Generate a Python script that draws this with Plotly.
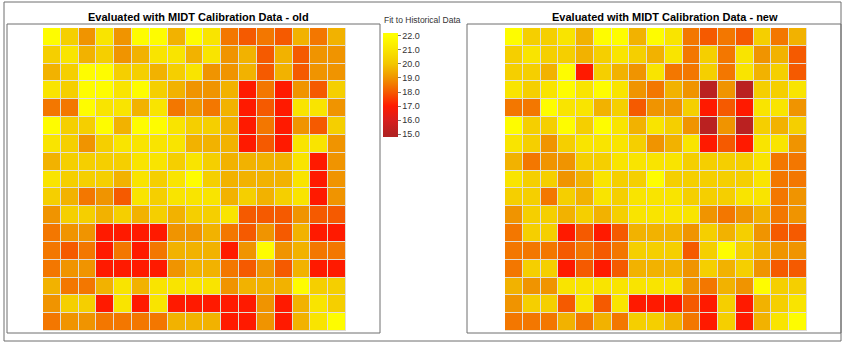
import plotly.graph_objects as go

W, H = 845, 345

# Fit values, row 0 = top row of each map (17 x 17 grid)
old_values = [
    [21.9,20.3,19.0,21.0,19.0,21.9,21.9,19.6,21.9,21.0,18.5,18.0,18.5,18.0,19.6,18.5,19.6],
    [20.3,21.0,19.6,20.3,19.0,19.6,21.0,21.0,19.6,21.0,19.0,19.6,18.0,19.6,18.0,19.0,19.0],
    [19.6,20.3,21.9,21.9,20.3,20.3,19.6,20.3,21.0,19.0,19.0,19.6,18.0,19.6,18.0,19.0,19.0],
    [21.0,20.3,21.9,21.9,21.0,21.9,20.3,19.6,19.0,19.0,19.6,17.0,18.5,17.0,19.0,18.0,20.3],
    [18.5,18.5,21.9,21.0,21.0,19.6,21.0,18.5,19.0,18.5,19.6,17.0,18.0,17.0,21.0,21.0,19.0],
    [21.9,20.3,20.3,21.9,19.6,21.9,21.9,21.0,20.3,20.3,19.6,17.0,18.5,17.0,19.0,18.0,20.3],
    [21.0,20.3,19.0,20.3,21.0,21.0,21.0,21.0,19.6,19.6,19.6,17.0,18.0,17.0,21.0,21.0,19.0],
    [19.6,20.3,20.3,20.3,20.3,21.0,21.0,20.3,21.0,20.3,19.6,19.6,19.6,19.6,21.0,17.0,19.0],
    [21.0,20.3,20.3,20.3,19.6,21.0,20.3,21.0,21.9,20.3,19.6,19.6,19.6,19.6,21.0,17.0,19.0],
    [20.3,19.6,18.5,19.0,18.0,21.0,20.3,21.0,21.0,21.0,19.6,20.3,19.6,20.3,21.0,17.0,19.0],
    [19.0,20.3,20.3,19.6,20.3,19.6,20.3,19.6,20.3,20.3,21.0,18.0,18.0,18.0,19.0,18.0,18.0],
    [18.5,19.0,19.0,17.0,17.0,17.0,17.0,19.0,19.0,19.6,18.5,18.0,19.0,18.0,19.6,17.0,17.0],
    [18.5,18.0,18.5,17.0,18.5,17.0,18.5,19.6,19.6,19.6,17.0,19.0,21.9,19.0,19.6,18.5,18.5],
    [18.5,19.0,19.0,17.0,17.0,17.0,17.0,19.0,19.6,19.6,18.5,18.0,19.0,18.0,19.6,17.0,17.0],
    [19.6,18.5,18.5,19.6,21.0,19.6,21.0,21.0,21.0,21.0,19.0,19.6,19.6,19.6,21.9,20.3,20.3],
    [19.0,20.3,20.3,17.0,21.0,17.0,21.0,17.0,17.0,17.0,17.0,17.0,19.0,17.0,19.6,21.0,20.3],
    [18.5,19.0,19.0,18.5,18.5,18.5,18.5,19.6,19.6,19.6,17.0,17.0,19.0,17.0,19.6,21.0,21.9],
]

new_values = [
    [21.9,20.3,20.3,21.0,19.6,21.9,21.9,19.6,21.9,21.0,18.5,18.0,18.5,18.0,20.3,18.5,19.6],
    [20.3,21.0,20.3,20.3,19.6,20.3,21.0,20.3,19.6,21.0,18.5,20.3,18.5,21.0,19.0,19.6,18.0],
    [20.3,20.3,19.6,21.9,17.0,20.3,19.6,19.0,21.0,18.5,18.5,20.3,18.5,21.0,19.6,20.3,18.0],
    [21.0,20.3,21.0,21.9,21.0,21.9,21.0,19.0,18.5,19.6,19.0,15.2,19.0,15.2,20.3,20.3,21.0],
    [18.5,18.5,21.9,21.0,21.0,19.6,20.3,18.0,19.0,19.0,20.3,17.0,18.0,17.0,21.0,21.0,19.0],
    [21.9,20.3,20.3,21.9,20.3,21.9,21.0,19.6,21.0,20.3,19.0,15.2,19.0,15.2,20.3,19.6,20.3],
    [21.0,20.3,19.0,20.3,21.0,21.0,21.0,20.3,19.0,19.6,21.0,17.0,18.0,17.0,21.0,21.0,19.0],
    [19.6,18.5,19.0,19.0,20.3,20.3,21.0,21.0,21.0,21.0,20.3,20.3,20.3,20.3,21.0,18.5,18.5],
    [21.0,20.3,20.3,19.0,19.6,21.0,20.3,20.3,21.9,20.3,20.3,20.3,20.3,20.3,21.0,18.5,18.5],
    [20.3,20.3,18.5,20.3,19.6,21.0,20.3,21.0,21.0,21.0,20.3,20.3,20.3,21.0,21.0,18.5,19.0],
    [19.0,20.3,20.3,19.6,20.3,19.6,20.3,21.0,21.0,21.0,21.0,19.0,18.5,19.0,19.6,18.5,19.0],
    [18.5,20.3,20.3,17.0,18.0,17.0,18.0,19.6,19.6,19.6,19.0,20.3,19.6,20.3,19.0,18.0,18.0],
    [18.5,18.5,18.5,18.0,18.5,18.0,18.5,20.3,20.3,20.3,18.0,20.3,21.9,20.3,19.6,19.0,19.0],
    [18.5,20.3,20.3,17.0,18.0,17.0,18.0,19.6,19.6,19.6,19.0,20.3,19.6,20.3,19.0,18.0,18.0],
    [19.6,19.0,19.0,21.0,21.0,21.0,21.0,21.0,21.0,21.0,19.0,18.5,19.6,19.0,21.9,20.3,20.3],
    [19.0,20.3,20.3,18.0,21.0,18.0,21.0,17.0,17.0,17.0,18.0,17.0,20.3,17.0,19.6,20.3,21.0],
    [18.5,18.5,18.5,19.6,18.5,19.6,18.5,20.3,20.3,19.6,18.5,17.0,20.3,17.0,19.6,21.0,21.9],
]

titles = ["Evaluated with MIDT Calibration Data - old",
          "Evaluated with MIDT Calibration Data - new"]
colorbar_title = "Fit to Historical Data"
tick_values = [15, 16, 17, 18, 19, 20, 21, 22]

ZMIN, ZMAX = 14.8, 22.2
color_stops = [(14.8, "#b22222"), (15.0, "#b22222"), (16.0, "#d81e1e"), (17.0, "#ff1a00"),
               (18.0, "#f55a00"), (19.0, "#f09400"), (20.0, "#f3c600"),
               (21.0, "#f9e400"), (22.0, "#ffff00"), (22.2, "#ffff00")]
colorscale = [[(v - ZMIN) / (ZMAX - ZMIN), c] for v, c in color_stops]


def px_x(p):
    return p / W


def px_y(p):
    return 1 - p / H


fig = go.Figure()

ncol = len(old_values[0])
nrow = len(old_values)

panels = [
    dict(z=old_values, xa="x", ya="y", show=True),
    dict(z=new_values, xa="x2", ya="y2", show=False),
]

for p in panels:
    fig.add_trace(go.Heatmap(
        z=p["z"],
        x=list(range(ncol)),
        y=list(range(nrow)),
        xaxis=p["xa"], yaxis=p["ya"],
        zmin=ZMIN, zmax=ZMAX,
        colorscale=colorscale,
        xgap=1, ygap=1,
        showscale=p["show"],
        colorbar=dict(
            x=px_x(383), xanchor="left", xpad=0,
            y=px_y(33), yanchor="top", ypad=0,
            len=104, lenmode="pixels",
            thickness=15, thicknessmode="pixels",
            outlinewidth=0,
            tickvals=tick_values,
            ticktext=[f"{v:.1f}" for v in tick_values],
            ticks="outside", ticklen=3, tickcolor="#777",
            tickfont=dict(size=9, color="#333", family="Liberation Sans"),
        ),
        hovertemplate="%{z}<extra></extra>",
    ))

axis_common = dict(showgrid=False, zeroline=False, showticklabels=False, ticks="",
                   showline=False, fixedrange=True)
y_dom = [px_y(331), px_y(28)]
fig.update_layout(
    width=W, height=H,
    margin=dict(l=0, r=0, t=0, b=0),
    paper_bgcolor="white",
    plot_bgcolor="#e2ded4",
    xaxis=dict(domain=[px_x(43), px_x(346)], range=[-0.5, ncol - 0.5], **axis_common),
    yaxis=dict(domain=y_dom, range=[nrow - 0.5, -0.5], **axis_common),
    xaxis2=dict(domain=[px_x(505), px_x(807)], range=[-0.5, ncol - 0.5], anchor="y2", **axis_common),
    yaxis2=dict(domain=y_dom, range=[nrow - 0.5, -0.5], anchor="x2", **axis_common),
    showlegend=False,
)

line_style = dict(color="#6e6e6e", width=1)
rects = [(4, 2, 841, 341), (7, 24, 380, 333), (467, 24, 841, 333)]
for x0, y0, x1, y1 in rects:
    fig.add_shape(type="rect", xref="paper", yref="paper",
                  x0=px_x(x0), x1=px_x(x1), y0=px_y(y1), y1=px_y(y0),
                  line=line_style, fillcolor="rgba(0,0,0,0)", layer="above")

for t, cx in zip(titles, [198, 665]):
    fig.add_annotation(text=f"<b>{t}</b>", x=px_x(cx), y=px_y(17), xref="paper", yref="paper",
                       xanchor="center", yanchor="middle", showarrow=False,
                       font=dict(size=11, color="#000", family="Liberation Sans"))

fig.add_annotation(text=colorbar_title, x=px_x(382), y=px_y(20), xref="paper", yref="paper",
                   xanchor="left", yanchor="middle", showarrow=False,
                   font=dict(size=8.5, color="#333", family="Liberation Sans"))

fig.write_html("out.html")
